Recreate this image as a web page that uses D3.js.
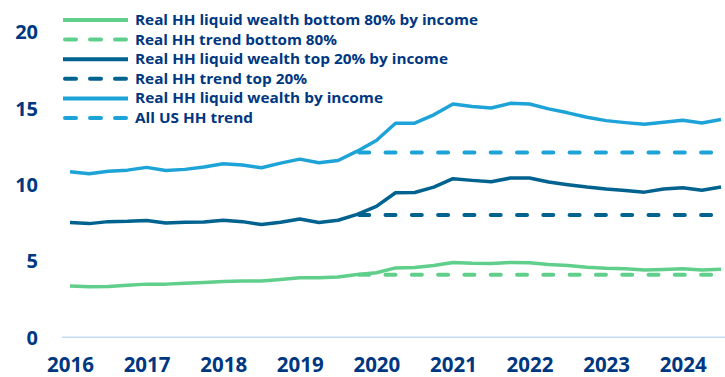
<!DOCTYPE html>
<html><head><meta charset="utf-8">
<script src="https://cdn.jsdelivr.net/npm/d3@7"></script>
<style>body{margin:0;background:#fff}svg{display:block}</style>
</head><body>
<svg id="c" width="725" height="377"></svg>
<script>
const quarters = ["2016Q1","2016Q2","2016Q3","2016Q4","2017Q1","2017Q2","2017Q3","2017Q4","2018Q1","2018Q2","2018Q3","2018Q4","2019Q1","2019Q2","2019Q3","2019Q4","2020Q1","2020Q2","2020Q3","2020Q4","2021Q1","2021Q2","2021Q3","2021Q4","2022Q1","2022Q2","2022Q3","2022Q4","2023Q1","2023Q2","2023Q3","2023Q4","2024Q1","2024Q2","2024Q3"];
const bottom80 = [3.35,3.31,3.33,3.41,3.48,3.48,3.54,3.59,3.65,3.68,3.68,3.78,3.89,3.89,3.94,4.11,4.22,4.54,4.57,4.70,4.90,4.85,4.83,4.90,4.88,4.76,4.70,4.59,4.52,4.48,4.41,4.44,4.48,4.41,4.46];
const top20 = [7.51,7.44,7.57,7.59,7.64,7.48,7.53,7.55,7.66,7.57,7.38,7.53,7.74,7.51,7.66,8.05,8.57,9.46,9.48,9.83,10.38,10.27,10.18,10.42,10.42,10.16,9.99,9.83,9.70,9.61,9.50,9.70,9.79,9.63,9.83];
const allHH = [10.84,10.70,10.87,10.94,11.12,10.92,10.99,11.14,11.36,11.27,11.10,11.40,11.66,11.42,11.57,12.18,12.88,14.01,14.01,14.56,15.27,15.10,15.01,15.31,15.27,14.95,14.69,14.40,14.18,14.05,13.94,14.07,14.20,14.03,14.25];
const trendStart = 15; // 2019Q4
const trendBottom80 = 4.1;
const trendTop20 = 8.0;
const trendAll = 12.1;
const yTicks = [0,5,10,15,20];
const xTickYears = [2016,2017,2018,2019,2020,2021,2022,2023,2024];
const legendLabels = ["Real HH liquid wealth bottom 80% by income","Real HH trend bottom 80%","Real HH liquid wealth top 20% by income","Real HH trend top 20%","Real HH liquid wealth by income","All US HH trend"];
const legendWidths = [343,202,313,172,248,118];

const GREEN="#5fcf8b", DARK="#00628f", LIGHT="#1ea3d8", NAVY="#003781";
const svg = d3.select("#c");
const FONT = "'Open Sans', Lato, sans-serif";

const x = d3.scaleLinear().domain([0, 34]).range([70, 721]);
const y = d3.scaleLinear().domain([0, 20]).range([337.3, 31.7]);
const xYear = yr => x((yr-2016)*4);

// baseline
svg.append("line").attr("x1",62).attr("x2",725).attr("y1",y(0)).attr("y2",y(0))
  .attr("stroke","#c6dbf6").attr("stroke-width",1.5);

// y axis
const yAxis = d3.axisLeft(y).tickValues(yTicks).tickSize(0).tickPadding(0);
const gy = svg.append("g").attr("transform","translate(38,0)").call(yAxis);
gy.select(".domain").remove();
gy.selectAll("text").attr("font-family",FONT).attr("font-weight",700).attr("font-size",20).attr("fill",NAVY).attr("dy","0.35em");

// x axis
const xAxis = d3.axisBottom(d3.scaleLinear().domain([2016,2024]).range([xYear(2016),xYear(2024)]))
  .tickValues(xTickYears).tickFormat(d3.format("d")).tickSize(0).tickPadding(0);
const gx = svg.append("g").attr("transform","translate(0,357)").call(xAxis);
gx.select(".domain").remove();
gx.selectAll("text").attr("font-family",FONT).attr("font-weight",700).attr("font-size",20.5).attr("fill",NAVY).attr("dy","0.71em");

const line = d3.line().x((d,i)=>x(i)).y(d=>y(d));
const trendLine = v => d3.line()([[x(trendStart),y(v)],[x(34),y(v)]]);

[[trendBottom80,GREEN],[trendTop20,DARK],[trendAll,LIGHT]].forEach(([v,c])=>{
  svg.append("path").attr("d",trendLine(v)).attr("fill","none").attr("stroke",c)
    .attr("stroke-width",4).attr("stroke-dasharray","10,16.3").attr("stroke-linecap","round")
    .attr("stroke-dashoffset",-2);
});
[[bottom80,GREEN],[top20,DARK],[allHH,LIGHT]].forEach(([arr,c])=>{
  svg.append("path").attr("d",line(arr)).attr("fill","none").attr("stroke",c)
    .attr("stroke-width",3.5).attr("stroke-linejoin","round");
});

// legend
const legColors=[GREEN,GREEN,DARK,DARK,LIGHT,LIGHT];
legendLabels.forEach((t,i)=>{
  const ly = 20 + i*19.6;
  const dashed = i%2===1;
  svg.append("line").attr("x1",dashed?65:63).attr("x2",dashed?126:128).attr("y1",ly).attr("y2",ly)
    .attr("stroke",legColors[i]).attr("stroke-width",4)
    .attr("stroke-linecap",dashed?"round":"butt")
    .attr("stroke-dasharray",dashed?"11,14":null);
  svg.append("text").attr("x",135).attr("y",ly).attr("dy","0.35em")
    .attr("font-family",FONT).attr("font-weight",700).attr("font-size",14.5).attr("fill",NAVY)
    .attr("textLength",legendWidths[i]).attr("lengthAdjust","spacingAndGlyphs").text(t);
});
</script>
</body></html>
